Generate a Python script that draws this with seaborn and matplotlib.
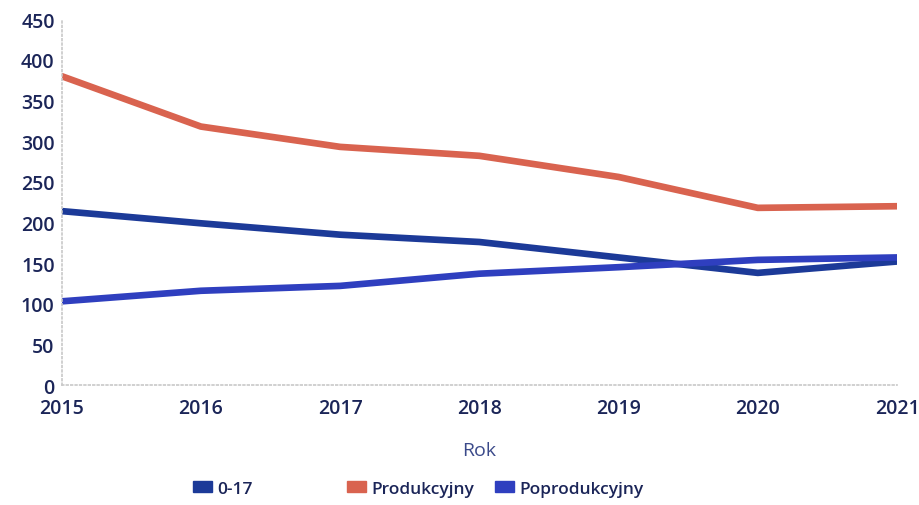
import numpy as np
import pandas as pd
import matplotlib
matplotlib.use("Agg")
import matplotlib.pyplot as plt
import matplotlib.patches as mpatches
import seaborn as sns

# Dane
years = [2015, 2016, 2017, 2018, 2019, 2020, 2021]
grupa_0_17 = [214, 199, 185, 176, 157, 138, 152]
produkcyjny = [380, 318, 293, 282, 256, 218, 220]
poprodukcyjny = [103, 116, 122, 137, 145, 154, 157]

series_names = ["0-17", "Produkcyjny", "Poprodukcyjny"]
colors = ["#1c3a98", "#d9634f", "#2f3fbf"]
y_ticks = [0, 50, 100, 150, 200, 250, 300, 350, 400, 450]

sns.set_theme(style="white")
plt.rcParams['font.family'] = ['Open Sans', 'DejaVu Sans']

df = pd.DataFrame({
    "Rok": years * 3,
    "Wartosc": grupa_0_17 + produkcyjny + poprodukcyjny,
    "Grupa": [series_names[0]] * 7 + [series_names[1]] * 7 + [series_names[2]] * 7,
})

text_col = "#1b2558"

fig, ax = plt.subplots(figsize=(9.2, 5.06), dpi=100)
fig.subplots_adjust(left=0.067, right=0.975, top=0.96, bottom=0.237)

sns.lineplot(data=df, x="Rok", y="Wartosc", hue="Grupa",
             palette=dict(zip(series_names, colors)), lw=4.8,
             ax=ax, legend=False)

ax.set_xlim(years[0], years[-1])
ax.set_ylim(0, 450)
ax.set_xticks(years)
ax.set_yticks(y_ticks)
ax.tick_params(axis="both", colors=text_col, labelsize=14, length=0)
ax.tick_params(axis="x", pad=9)
ax.tick_params(axis="y", pad=5)
for lab in ax.get_xticklabels() + ax.get_yticklabels():
    lab.set_fontweight("semibold")

ax.set_xlabel("Rok", color="#3b4a8a", fontsize=14, labelpad=17)
ax.set_ylabel("")

for side in ["top", "right"]:
    ax.spines[side].set_visible(False)
for side in ["left", "bottom"]:
    ax.spines[side].set_color("#c8c8c8")
    ax.spines[side].set_linestyle(":")
    ax.spines[side].set_linewidth(1.2)

# legenda - trzy osobne wpisy, jak w oryginale
legend_x = [0.21, 0.377, 0.538]
for n, c, lx in zip(series_names, colors, legend_x):
    leg = fig.legend(handles=[mpatches.Patch(color=c, label=n)],
                     loc="center left", bbox_to_anchor=(lx, 0.032),
                     frameon=False, fontsize=12.5, handlelength=1.1,
                     handleheight=0.6, handletextpad=0.3,
                     borderpad=0, borderaxespad=0)
    for t in leg.get_texts():
        t.set_color(text_col)
        t.set_fontweight("semibold")

fig.savefig("out.png", dpi=100)
